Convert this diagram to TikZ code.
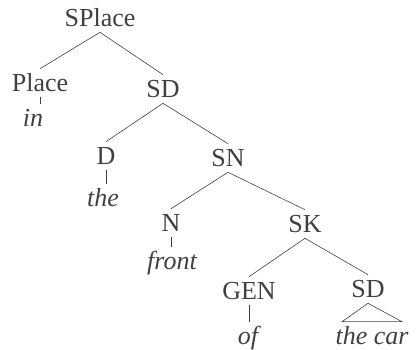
\documentclass[tikz,border=0pt]{standalone}
\usepackage{fontspec}
\setmainfont{Liberation Serif}
\begin{document}
\begin{tikzpicture}[x=1pt,y=-1pt,line width=0.6pt,color=black!75,
            cat node/.style={font=\fontsize{26}{31}\selectfont,anchor=base,
                text height=19pt,text depth=1pt,inner ysep=4pt,inner xsep=2pt},
            word node/.style={cat node,font=\fontsize{26}{31}\selectfont\itshape,
                text height=21pt,text depth=0pt,inner ysep=2pt,inner xsep=0pt}]
        \useasboundingbox (0,0) rectangle (416,350);

        % Define categories
        \node[cat node] (splace) at (100,27) {SPlace};
        \node[cat node] (place) at (40,92) {Place};
        \node[cat node] (sd1) at (163,98) {SD};
        \node[cat node] (d) at (106,165) {D};
        \node[cat node] (sn) at (228,167) {SN};
        \node[cat node] (n) at (171,232) {N};
        \node[cat node] (sk) at (305,233) {SK};
        \node[cat node] (gen) at (249,300) {GEN};
        \node[cat node] (sd2) at (368,298) {SD};

        % Define words
        \node[word node] (in) at (33,127) {in};
        \node[word node] (the) at (103,207) {the};
        \node[word node] (front) at (172,270) {front};
        \node[word node] (of) at (248,345) {of};
        \node[word node] (thecar) at (372,345) {the car};

        % Draw branches
        \path
            (splace.south) edge (place.north)
            (splace.south) edge (sd1.north)
            (sd1.south) edge (d.north)
            (sd1.south) edge (sn.north)
            (sn.south) edge (n.north)
            (sn.south) edge (sk.north)
            (sk.south) edge (gen.north)
            (sk.south) edge (sd2.north);

        % Draw lexical lines
        \draw (place.south) -- (place.south |- in.north);
        \draw (d.south) -- (d.south |- the.north);
        \draw (n.south) -- (n.south |- front.north);
        \draw (gen.south) -- (gen.south |- of.north);
        \draw (sd2.south) -- ([xshift=-30pt]thecar.north)
            -- ([xshift=30pt]thecar.north) -- cycle;

\end{tikzpicture}
\end{document}
